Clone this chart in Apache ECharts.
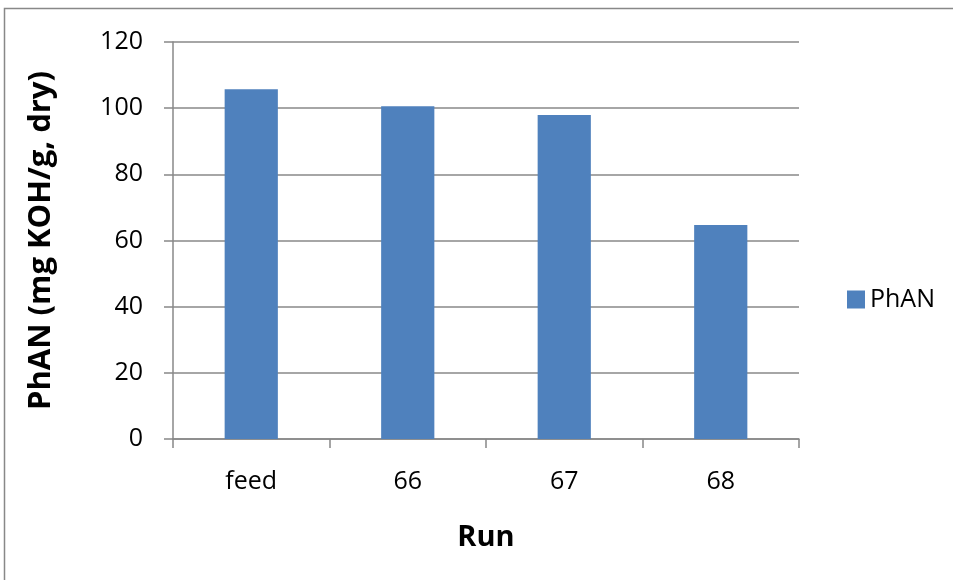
<!DOCTYPE html>
<html>
<head>
<meta charset="utf-8">
<script src="https://cdn.jsdelivr.net/npm/echarts@6/dist/echarts.min.js"></script>
<style>html,body{margin:0;padding:0;background:#fff}#c{width:953px;height:580px}</style>
</head>
<body>
<div id="c"></div>
<script>
var categories = ['feed', '66', '67', '68'];
var phanValues = [105.7, 100.6, 97.9, 64.7];
var seriesName = 'PhAN';
var yTitle = 'PhAN (mg KOH/g, dry)';
var xTitle = 'Run';

var font = '"Open Sans", sans-serif';
var chart = echarts.init(document.getElementById('c'), null, {renderer: 'canvas'});
chart.setOption({
  animation: false,
  backgroundColor: '#fff',
  graphic: [{
    type: 'rect', silent: true, z: -1,
    shape: {x: 4.5, y: 8.5, width: 1200, height: 1200},
    style: {fill: 'none', stroke: '#888', lineWidth: 1.5}
  }],
  grid: {left: 173, right: 154, top: 42, bottom: 141, containLabel: false},
  legend: {
    data: [seriesName], left: 842, top: 282, orient: 'vertical',
    itemWidth: 18, itemHeight: 18, itemGap: 8,
    icon: 'rect',
    textStyle: {fontFamily: font, fontSize: 25, color: '#000', padding: [0, 0, 0, 0]}
  },
  xAxis: {
    type: 'category', data: categories,
    name: xTitle, nameLocation: 'middle', nameGap: 84,
    nameTextStyle: {fontFamily: font, fontSize: 29, fontWeight: 'bold', color: '#000'},
    axisLine: {lineStyle: {color: '#888', width: 1.5}},
    axisTick: {show: true, length: 9, lineStyle: {color: '#888', width: 1.5}},
    axisLabel: {fontFamily: font, fontSize: 25, color: '#000', margin: 30}
  },
  yAxis: {
    type: 'value', min: 0, max: 120, interval: 20,
    name: yTitle, nameLocation: 'middle', nameGap: 116,
    nameTextStyle: {fontFamily: font, fontSize: 31, fontWeight: 'bold', color: '#000'},
    axisLine: {show: true, lineStyle: {color: '#888', width: 1.5}},
    axisTick: {show: true, length: 9, lineStyle: {color: '#888', width: 1.5}},
    axisLabel: {fontFamily: font, fontSize: 25, color: '#000', margin: 30},
    splitLine: {lineStyle: {color: '#888', width: 1.5}}
  },
  series: [{
    name: seriesName, type: 'bar', data: phanValues,
    barWidth: '34%',
    itemStyle: {color: '#4F81BD'}
  }]
});
</script>
</body>
</html>
